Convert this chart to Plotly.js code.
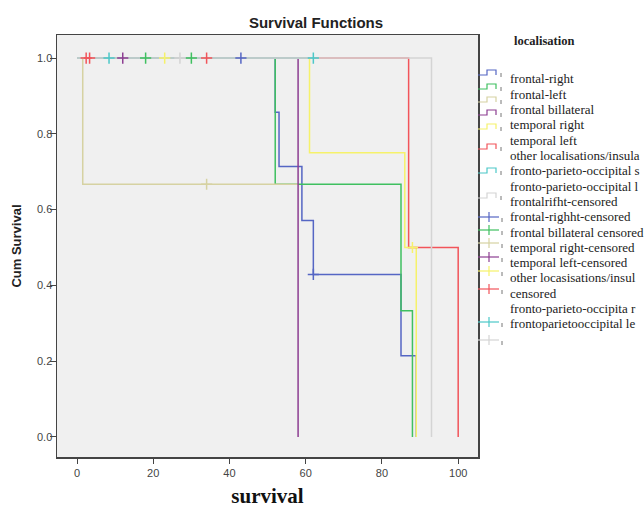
<!DOCTYPE html>
<html><head><meta charset="utf-8">
<script src="https://cdn.plot.ly/plotly-3.0.1.min.js"></script>
<style>html,body{margin:0;padding:0;background:#fff}</style>
</head><body><div id="chart" style="width:644px;height:508px"></div>
<script>
// ---- data ----
const seriesNames = ["frontal-right","frontal-left","frontal billateral","temporal right","temporal left","other localisations/insula","fronto-parieto-occipital s","fronto-parieto-occipital l"];
const censoredNames = ["frontalrifht-censored","frontal-righht-censored","frontal billateral censored","temporal right-censored","temporal left-censored","other locasisations/insul\ncensored","fronto-parieto-occipita r","frontoparietooccipital le"];

const frontalRightTime = [0,52,53,59,62,85,89];
const frontalRightSurv = [1,0.857,0.714,0.571,0.429,0.214,0];
const frontalLeftTime = [0,52,85,88];
const frontalLeftSurv = [1,0.667,0.333,0];
const frontalBilatTime = [0,1.5,58];
const frontalBilatSurv = [1,0.667,0.667];
const temporalRightTime = [0,58];
const temporalRightSurv = [1,0];
const temporalLeftTime = [0,61,86,89];
const temporalLeftSurv = [1,0.75,0.5,0];
const otherTime = [0,87,100];
const otherSurv = [1,0.5,0];
const fpoSTime = [0,62];
const fpoSSurv = [1,1];
const fpoLTime = [0,93];
const fpoLSurv = [1,0];

const frontalRightCensT = [43,62];   const frontalRightCensS = [1,0.429];
const frontalLeftCensT = [18,30];    const frontalLeftCensS = [1,1];
const frontalBilatCensT = [34];      const frontalBilatCensS = [0.667];
const temporalRightCensT = [12];     const temporalRightCensS = [1];
const temporalLeftCensT = [23,88];   const temporalLeftCensS = [1,0.5];
const otherCensT = [2.4,3.3,34];     const otherCensS = [1,1,1];
const fpoSCensT = [8.4,62];          const fpoSCensS = [1,1];
const fpoLCensT = [27];              const fpoLCensS = [1];

const xTicks = [0,20,40,60,80,100];
const yTicks = [0,0.2,0.4,0.6,0.8,1.0];
const yTickLabels = ["0.0","0.2","0.4","0.6","0.8","1.0"];

// ---- styling ----
const colors = ["#5566c4","#3fc060","#d6d2a2","#8d3e92","#f6f26a","#f2545a","#4cc8c8","#d4d4d4"];
const curves = [
  [frontalRightTime,frontalRightSurv],[frontalLeftTime,frontalLeftSurv],[frontalBilatTime,frontalBilatSurv],
  [temporalRightTime,temporalRightSurv],[temporalLeftTime,temporalLeftSurv],[otherTime,otherSurv],
  [fpoSTime,fpoSSurv],[fpoLTime,fpoLSurv]];
const cens = [
  [frontalRightCensT,frontalRightCensS],[frontalLeftCensT,frontalLeftCensS],[frontalBilatCensT,frontalBilatCensS],
  [temporalRightCensT,temporalRightCensS],[temporalLeftCensT,temporalLeftCensS],[otherCensT,otherCensS],
  [fpoSCensT,fpoSCensS],[fpoLCensT,fpoLCensS]];

const traces = [];
curves.forEach((c,i)=>{
  traces.push({type:'scatter',mode:'lines',x:c[0],y:c[1],name:seriesNames[i],
    line:{shape:'hv',color:colors[i],width:1.5},showlegend:false,hoverinfo:'skip'});
});
cens.forEach((c,i)=>{
  traces.push({type:'scatter',mode:'markers',x:c[0],y:c[1],name:censoredNames[i].replace('\n',' '),
    marker:{symbol:'cross-thin',size:8,line:{color:colors[i],width:1.5}},showlegend:false,hoverinfo:'skip'});
});

// ---- custom legend (SPSS style) ----
const L=57, R=478, T=35, B=457;
const px2x = p => (p-L)/(R-L);
const px2y = p => (B-p)/(B-T);
const annotations = [];
const shapes = [];
annotations.push({xref:'paper',yref:'paper',x:px2x(512),y:px2y(41),xanchor:'left',yanchor:'middle',
  text:'<b>localisation</b>',showarrow:false,font:{family:'Liberation Serif',size:12.5,color:'#222'}});
const rows = seriesNames.concat(censoredNames.join('\n').split('\n'));
rows.forEach((t,i)=>{
  annotations.push({xref:'paper',yref:'paper',x:px2x(508),y:px2y(79+i*15.3),xanchor:'left',yanchor:'middle',
    text:t,showarrow:false,font:{family:'Liberation Serif',size:13,color:'#222'}});
});
const stepY = [72,86,99,112,126,146,170,195];
const plusY = [217,230,243,257,271,289,322,340];
stepY.forEach((y,i)=>{
  const d = `M ${px2x(478)},${px2y(y+3)} L ${px2x(487)},${px2y(y+3)} L ${px2x(487)},${px2y(y-2)} L ${px2x(496)},${px2y(y-2)} L ${px2x(496)},${px2y(y+3)}`;
  shapes.push({type:'path',xref:'paper',yref:'paper',path:d,line:{color:colors[i],width:1.2}});
  shapes.push({type:'line',xref:'paper',yref:'paper',x0:px2x(501),x1:px2x(501),y0:px2y(y+1),y1:px2y(y+5),line:{color:'#777',width:1}});
});
plusY.forEach((y,i)=>{
  shapes.push({type:'line',xref:'paper',yref:'paper',x0:px2x(478),x1:px2x(499),y0:px2y(y),y1:px2y(y),line:{color:colors[i],width:1.2}});
  shapes.push({type:'line',xref:'paper',yref:'paper',x0:px2x(489),x1:px2x(489),y0:px2y(y-5),y1:px2y(y+5),line:{color:colors[i],width:1.2}});
  shapes.push({type:'line',xref:'paper',yref:'paper',x0:px2x(502),x1:px2x(502),y0:px2y(y+1),y1:px2y(y+5),line:{color:'#777',width:1}});
});

const layout = {
  width:644,height:508,
  margin:{l:L,r:644-R,t:T,b:508-B,pad:0},
  paper_bgcolor:'#ffffff',plot_bgcolor:'#f0f0f0',
  showlegend:false,
  title:{text:'<b>Survival Functions</b>',xref:'paper',x:px2x(316),xanchor:'center',yref:'container',y:1-23/508,yanchor:'middle',
    font:{family:'Liberation Sans, Arial',size:15,color:'#222'}},
  xaxis:{range:[-5.25,105.2],tickvals:xTicks,ticktext:xTicks.map(String),ticks:'outside',ticklen:5,tickcolor:'#444',
    showline:true,linecolor:'#444',linewidth:1.5,mirror:true,showgrid:false,zeroline:false,
    tickfont:{family:'Liberation Sans, Arial',size:11,color:'#444'},
    title:{text:'<b>survival</b>',font:{family:'Liberation Serif',size:21,color:'#111'},standoff:14}},
  yaxis:{range:[-0.053,1.061],tickvals:yTicks,ticktext:yTickLabels,ticks:'outside',ticklen:6,tickcolor:'#444',
    ticklabelstandoff:-5,
    showline:true,linecolor:'#444',linewidth:1.5,mirror:true,showgrid:false,zeroline:false,
    tickfont:{family:'Liberation Sans, Arial',size:11,color:'#444'},
    title:{text:'<b>Cum Survival</b>',font:{family:'Liberation Sans, Arial',size:13,color:'#222'},standoff:12}},
  annotations:annotations,
  shapes:shapes
};
Plotly.newPlot('chart',traces,layout,{staticPlot:true,displayModeBar:false});
</script></body></html>
